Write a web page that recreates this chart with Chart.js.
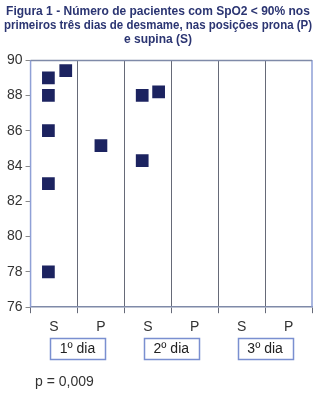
<!DOCTYPE html>
<html>
<head>
<meta charset="utf-8">
<script src="https://cdn.jsdelivr.net/npm/chart.js@4/dist/chart.umd.min.js"></script>
<style>
html,body{margin:0;padding:0;background:#fff;}
#wrap{width:322px;height:400px;position:relative;}
</style>
</head>
<body>
<div id="wrap"><canvas id="c" width="322" height="400"></canvas></div>
<script>
const titleLines = ["Figura 1 - Número de pacientes com SpO2 < 90% nos", "primeiros três dias de desmame, nas posições prona (P)", "e supina (S)"];
const categories = ["S", "P", "S", "P", "S", "P"];
const dayLabels = ["1º dia", "2º dia", "3º dia"];
const pValueText = "p = 0,009";
// x position within category columns (0..6), y = SpO2 value
const pointX = [0.38, 0.38, 0.38, 0.38, 0.38, 0.75, 1.5, 2.38, 2.38, 2.73];
const pointY = [89, 88, 86, 83, 78, 89.4, 85.15, 88, 84.3, 88.2];
const yTicks = [76, 78, 80, 82, 84, 86, 88, 90];

const navy = '#1c2360';
const gridCol = '#666a78';
const borderBlue = '#8fa0d6';

const extras = {
  id: 'extras',
  afterDraw(chart) {
    const ctx = chart.ctx;
    const x = chart.scales.x;
    const area = chart.chartArea;
    ctx.save();
    ctx.strokeStyle = borderBlue;
    ctx.lineWidth = 1.5;
    ctx.beginPath();
    ctx.moveTo(area.left, area.top);
    ctx.lineTo(area.left, area.bottom);
    ctx.moveTo(area.right, area.top);
    ctx.lineTo(area.right, area.bottom);
    ctx.stroke();
    ctx.strokeStyle = '#7f8aa8';
    ctx.beginPath();
    ctx.moveTo(area.left, area.top + 0.5);
    ctx.lineTo(area.right, area.top + 0.5);
    ctx.stroke();
    ctx.font = '14px "Liberation Sans", Arial, sans-serif';
    ctx.textAlign = 'center';
    ctx.textBaseline = 'middle';
    dayLabels.forEach((lab, i) => {
      const cx = x.getPixelForValue(2 * i + 1);
      const w = 55, h = 21, top = 338;
      ctx.strokeStyle = '#7a8fd0';
      ctx.lineWidth = 1.5;
      ctx.strokeRect(Math.round(cx - w / 2) + 0.5, top + 0.5, w, h);
      ctx.fillStyle = '#222';
      ctx.fillText(lab, cx, top + h / 2 + 1);
    });
    ctx.textAlign = 'left';
    ctx.fillStyle = '#333';
    ctx.fillText(pValueText, 35, 382);
    ctx.restore();
  }
};

new Chart(document.getElementById('c'), {
  type: 'scatter',
  data: {
    datasets: [{
      data: pointX.map((v, i) => ({ x: v, y: pointY[i] })),
      pointStyle: 'rect',
      pointRadius: 9,
      pointHoverRadius: 9,
      backgroundColor: navy,
      borderColor: navy,
      borderWidth: 0
    }]
  },
  options: {
    responsive: false,
    animation: false,
    events: [],
    layout: { padding: { left: 4, right: 10, top: 0, bottom: 58 } },
    plugins: {
      legend: { display: false },
      tooltip: { enabled: false },
      title: {
        display: true,
        text: titleLines,
        color: '#2b3572',
        font: { family: '"Liberation Sans", Arial, sans-serif', size: 12, weight: 'bold', lineHeight: 1.17 },
        padding: { top: 5, bottom: 13 }
      }
    },
    scales: {
      x: {
        type: 'linear',
        min: 0,
        max: 6,
        afterBuildTicks(axis) {
          const t = [];
          for (let i = 0; i <= 12; i++) t.push({ value: i / 2 });
          axis.ticks = t;
        },
        grid: {
          drawOnChartArea: true,
          color: c => (c.tick && c.tick.value % 1 === 0 && c.tick.value > 0 && c.tick.value < 6) ? gridCol : 'rgba(0,0,0,0)',
          tickColor: c => (c.tick && c.tick.value % 1 === 0) ? gridCol : 'rgba(0,0,0,0)',
          tickLength: 6,
          lineWidth: 1
        },
        border: { display: true, color: '#7f8aa8', width: 1.5 },
        ticks: {
          autoSkip: false,
          maxRotation: 0,
          padding: 6,
          color: '#333',
          font: { family: '"Liberation Sans", Arial, sans-serif', size: 14 },
          callback: v => (v % 1 !== 0) ? categories[Math.floor(v)] : ''
        }
      },
      y: {
        min: 76,
        max: 90,
        afterBuildTicks(axis) { axis.ticks = yTicks.map(v => ({ value: v })); },
        grid: { drawOnChartArea: false, tickColor: '#888', tickLength: 5 },
        border: { display: false },
        ticks: {
          padding: 3,
          color: '#333',
          font: { family: '"Liberation Sans", Arial, sans-serif', size: 14 }
        }
      }
    }
  },
  plugins: [extras]
});
</script>
</body>
</html>
